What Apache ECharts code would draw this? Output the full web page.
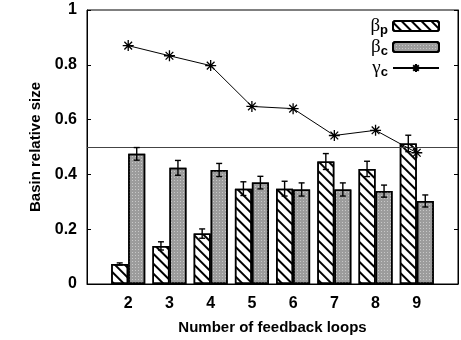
<!DOCTYPE html>
<html>
<head>
<meta charset="utf-8">
<script src="https://cdn.jsdelivr.net/npm/echarts@6/dist/echarts.min.js"></script>
<style>html,body{margin:0;padding:0;background:#fff}#c{width:461px;height:340px}</style>
</head>
<body>
<div id="c"></div>
<script>
// ---- data ----
const categories = ['2', '3', '4', '5', '6', '7', '8', '9'];
const betaP = [0.073, 0.139, 0.184, 0.348, 0.348, 0.447, 0.420, 0.513];
const betaPErr = [0.004, 0.015, 0.017, 0.025, 0.027, 0.029, 0.028, 0.030];
const betaC = [0.475, 0.424, 0.416, 0.370, 0.345, 0.345, 0.339, 0.303];
const betaCErr = [0.023, 0.027, 0.024, 0.023, 0.024, 0.024, 0.022, 0.022];
const gammaC = [0.870, 0.833, 0.797, 0.648, 0.640, 0.542, 0.561, 0.479];
const yTicks = [0, 0.2, 0.4, 0.6, 0.8, 1];
const refLine = 0.5;
const seriesNames = ['βp', 'βc', 'γc'];

// pad with an empty slot on each side (axis runs 1..10)
const xData = ['1'].concat(categories, ['10']);
const pad = arr => [null].concat(arr, [null]);

const BAR_W = 17;
function errSeries(vals, errs, offset) {
  return {
    type: 'custom',
    silent: true,
    z: 5,
    data: vals.map((v, i) => [i + 1, v, errs[i]]),
    renderItem: function (params, api) {
      const x = api.value(0), y = api.value(1), e = api.value(2);
      const t = api.coord([x, y + e]);
      const b = api.coord([x, y - e]);
      const cx = t[0] + offset;
      const cap = 3;
      const st = {stroke: '#000', lineWidth: 1.4};
      return {
        type: 'group',
        children: [
          {type: 'line', shape: {x1: cx, y1: t[1], x2: cx, y2: b[1]}, style: st},
          {type: 'line', shape: {x1: cx - cap, y1: t[1], x2: cx + cap, y2: t[1]}, style: st},
          {type: 'line', shape: {x1: cx - cap, y1: b[1], x2: cx + cap, y2: b[1]}, style: st}
        ]
      };
    }
  };
}

const star = 'path://M5,0L5,10M0,5L10,5M1.5,1.5L8.5,8.5M1.5,8.5L8.5,1.5';
const fontMain = '"Liberation Sans", Arial, sans-serif';

const chart = echarts.init(document.getElementById('c'), null, {renderer: 'canvas'});
chart.setOption({
  animation: false,
  backgroundColor: '#fff',
  grid: {left: 87, right: 2, top: 10, bottom: 55, show: true, borderColor: '#000', borderWidth: 1},
  legend: {
    orient: 'vertical',
    right: 16,
    top: 10,
    align: 'right',
    itemWidth: 46,
    itemHeight: 10,
    itemGap: -1,
    data: seriesNames,
    formatter: function (n) { return '{g|' + n.charAt(0) + '}{s|' + n.slice(1) + '}'; },
    textStyle: {
      color: '#000',
      rich: {
        g: {fontFamily: '"Liberation Serif", serif', fontSize: 19, lineHeight: 20, color: '#000'},
        s: {fontFamily: fontMain, fontSize: 13, fontWeight: 'bold', color: '#000', padding: [9, 0, 0, 0], lineHeight: 20}
      }
    }
  },
  xAxis: {
    type: 'category',
    data: xData,
    boundaryGap: false,
    name: 'Number of feedback loops',
    nameLocation: 'middle',
    nameGap: 36,
    nameTextStyle: {fontFamily: fontMain, fontWeight: 'bold', fontSize: 15, color: '#000'},
    axisLine: {lineStyle: {color: '#000', width: 1}},
    axisTick: {show: false},
    splitLine: {show: false},
    axisLabel: {
      interval: 0,
      margin: 12,
      fontFamily: fontMain, fontWeight: 'bold', fontSize: 16, color: '#000',
      formatter: function (v, i) { return (i === 0 || i === xData.length - 1) ? '' : v; }
    }
  },
  yAxis: [{
    type: 'value',
    min: yTicks[0], max: yTicks[yTicks.length - 1], interval: 0.2,
    name: 'Basin relative size',
    nameLocation: 'middle',
    nameGap: 41,
    nameTextStyle: {fontFamily: fontMain, fontWeight: 'bold', fontSize: 15, color: '#000'},
    axisLine: {show: true, lineStyle: {color: '#000', width: 1}},
    axisTick: {show: true, inside: true, length: 4, lineStyle: {color: '#000'}},
    splitLine: {show: false},
    axisLabel: {
      margin: 10,
      fontFamily: fontMain, fontWeight: 'bold', fontSize: 16, color: '#000',
      formatter: function (v) { return (v === 0 || v === 1) ? String(v) : v.toFixed(1); }
    }
  }, {
    type: 'value',
    position: 'right',
    min: yTicks[0], max: yTicks[yTicks.length - 1], interval: 0.2,
    axisLine: {show: true, lineStyle: {color: '#000', width: 1}},
    axisTick: {show: true, inside: true, length: 4, lineStyle: {color: '#000'}},
    axisLabel: {show: false},
    splitLine: {show: false}
  }],
  series: [
    {
      name: seriesNames[0],
      type: 'bar',
      data: pad(betaP),
      barWidth: BAR_W,
      barGap: '0%',
      itemStyle: {
        color: '#fff', borderColor: '#000', borderWidth: 1.5,
        decal: {symbol: 'rect', symbolSize: 1, dashArrayX: [1, 0], dashArrayY: [1.2, 4.6], rotation: Math.PI / 4, color: '#000'}
      },
      markLine: {
        silent: true, symbol: 'none', label: {show: false},
        lineStyle: {color: '#444', width: 1, type: 'solid'},
        data: [{yAxis: refLine}]
      }
    },
    {
      name: seriesNames[1],
      type: 'bar',
      data: pad(betaC),
      barWidth: BAR_W,
      barGap: '0%',
      itemStyle: {
        color: '#9c9c9c', borderColor: '#000', borderWidth: 1.5,
        decal: {symbol: 'rect', symbolSize: 1, dashArrayX: [[1, 1.5]], dashArrayY: [1, 1.5], color: 'rgba(255,255,255,0.45)'}
      }
    },
    errSeries(betaP, betaPErr, -BAR_W / 2),
    errSeries(betaC, betaCErr, BAR_W / 2),
    {
      name: seriesNames[2],
      type: 'line',
      data: pad(gammaC),
      symbol: star,
      symbolSize: 11,
      z: 6,
      lineStyle: {color: '#000', width: 1},
      itemStyle: {color: '#000', borderColor: '#000', borderWidth: 1.3}
    }
  ]
});
</script>
</body>
</html>
